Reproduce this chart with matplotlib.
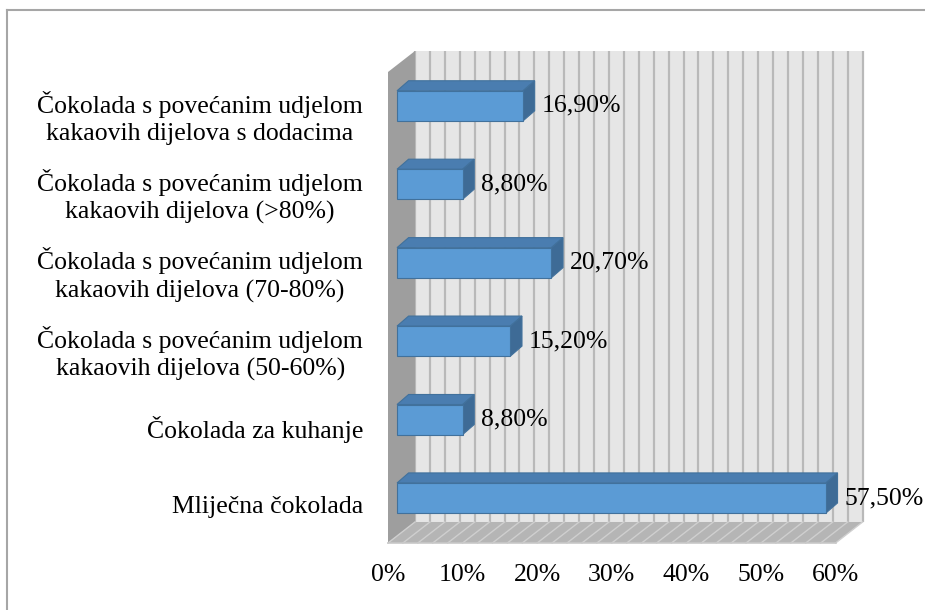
import numpy as np
import matplotlib
matplotlib.use("Agg")
import matplotlib.pyplot as plt
from matplotlib.patches import Polygon
from matplotlib.lines import Line2D

plt.rcParams['font.family'] = ['Liberation Serif', 'DejaVu Serif']

# podaci (odozdo prema gore)
kategorije = [
    "Mliječna čokolada",
    "Čokolada za kuhanje",
    "Čokolada s povećanim udjelom\nkakaovih dijelova (50-60%)",
    "Čokolada s povećanim udjelom\nkakaovih dijelova (70-80%)",
    "Čokolada s povećanim udjelom\nkakaovih dijelova (>80%)",
    "Čokolada s povećanim udjelom\nkakaovih dijelova s dodacima",
]
udio = [57.5, 8.8, 15.2, 20.7, 8.8, 16.9]
x_ticks = [0, 10, 20, 30, 40, 50, 60]
x_labels = ["0%", "10%", "20%", "30%", "40%", "50%", "60%"]

# 3D izgled (u jedinicama osi)
xmax = 60
y_dno, y_vrh = -0.485, 5.52
dub = (3.62, 0.268)      # dubina zidova
bar_off = (1.21, 0.089)  # prednja strana stupca
bar_dub = (1.55, 0.128)  # dubina stupca
bar_h = 0.383
fs = 18.5

fig = plt.figure(figsize=(9.25, 6.10), dpi=100)
ax = fig.add_axes([388/925, 67/610, 447.6/925, 471/610])
ax.set_xlim(0, xmax)
ax.set_ylim(y_dno, y_vrh)
for s in ax.spines.values():
    s.set_visible(False)
ax.patch.set_visible(False)

def poly(pts, fc, ec='none', lw=0, z=1):
    ax.add_patch(Polygon(pts, closed=True, facecolor=fc, edgecolor=ec,
                         linewidth=lw, zorder=z, clip_on=False))

dx, dy = dub
# stražnji zid
poly([(dx, y_dno+dy), (xmax+dx, y_dno+dy), (xmax+dx, y_vrh+dy), (dx, y_vrh+dy)], '#e6e6e6', z=1)
for g in np.arange(0, xmax+0.1, 2):
    ax.plot([g+dx, g+dx], [y_dno+dy, y_vrh+dy], color='#b9b9b9', lw=1.6,
            zorder=2, clip_on=False, solid_capstyle='butt')
# lijevi zid
poly([(0, y_dno), (dx, y_dno+dy), (dx, y_vrh+dy), (0, y_vrh)], '#9e9e9e', z=3)
# pod
poly([(0, y_dno), (xmax, y_dno), (xmax+dx, y_dno+dy), (dx, y_dno+dy)], '#b5b5b5', z=3)
for g in np.arange(0, xmax+0.1, 2):
    ax.plot([g, g+dx], [y_dno, y_dno+dy], color='#cfcfcf', lw=1.0, zorder=4, clip_on=False)
ax.plot([0, xmax], [y_dno, y_dno], color='#c8c8c8', lw=1.2, zorder=4, clip_on=False)

# stupci
for i, v in enumerate(udio):
    x0, yc = bar_off[0], i + bar_off[1]
    y0, y1 = yc - bar_h/2, yc + bar_h/2
    bx, by = bar_dub
    poly([(x0, y1), (x0+v, y1), (x0+v+bx, y1+by), (x0+bx, y1+by)], '#4a7db0', '#41719c', 0.8, z=5)
    poly([(x0+v, y0), (x0+v+bx, y0+by), (x0+v+bx, y1+by), (x0+v, y1)], '#3e6b96', '#41719c', 0.8, z=5)
    poly([(x0, y0), (x0+v, y0), (x0+v, y1), (x0, y1)], '#5b9bd5', '#41719c', 0.8, z=6)
    ax.text(x0+v+bx+0.9, yc, f"{v:.2f}".replace('.', ',') + "%", fontsize=fs,
            va='center', ha='left', zorder=7)

ax.set_xticks(x_ticks)
ax.set_xticklabels(x_labels, fontsize=fs)
ax.set_yticks(range(len(kategorije)))
ax.set_yticklabels(kategorije, fontsize=fs, ha='right', multialignment='center',
                   linespacing=1.3)
ax.tick_params(axis='x', length=0, pad=15)
ax.tick_params(axis='y', length=0, pad=18)

# okvir grafikona
fig.add_artist(Line2D([7/925, 1], [1-10/610, 1-10/610], color='#a6a6a6', lw=1.5))
fig.add_artist(Line2D([7/925, 7/925], [0, 1-10/610], color='#a6a6a6', lw=1.5))

fig.savefig("out.png", dpi=100)
